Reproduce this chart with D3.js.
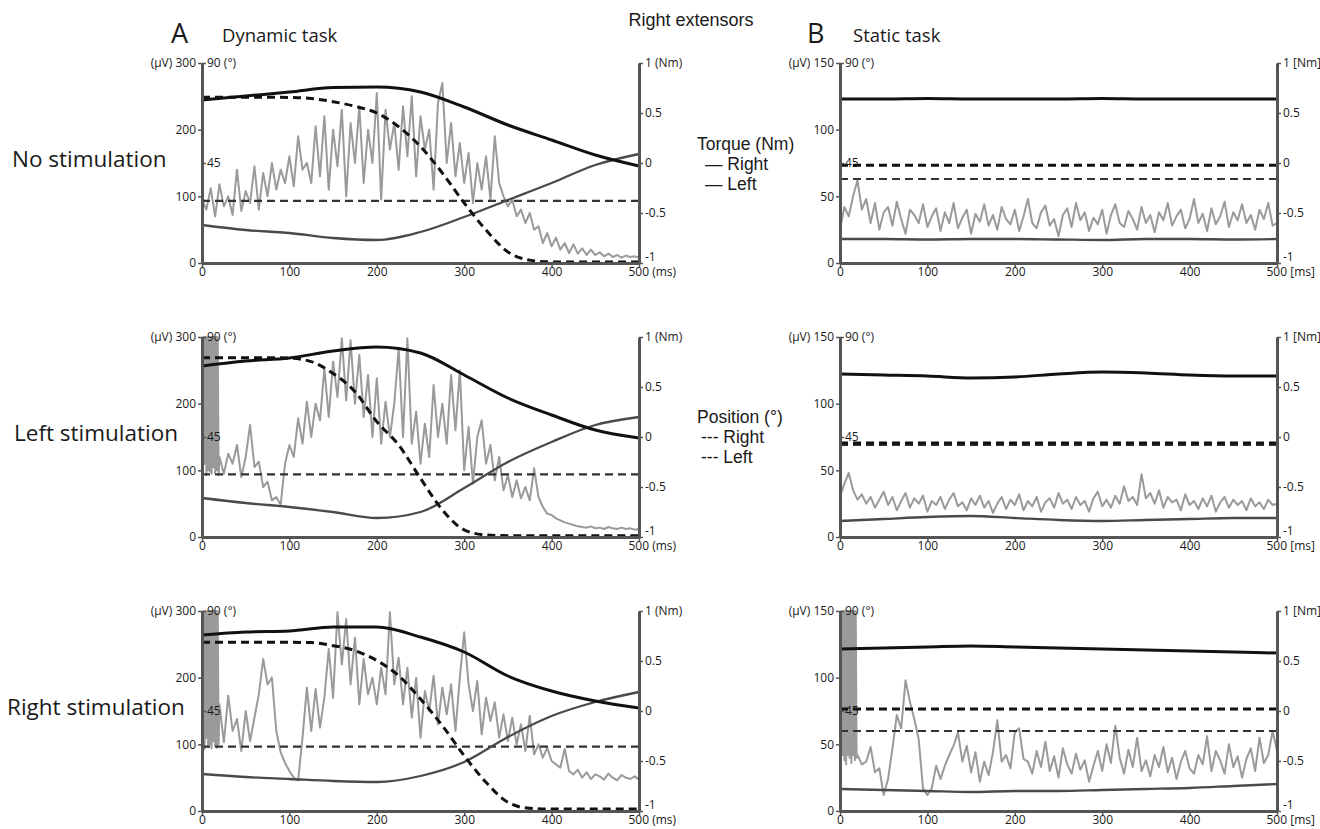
<!DOCTYPE html>
<html>
<head>
<meta charset="utf-8">
<script src="https://cdn.jsdelivr.net/npm/d3@7"></script>
<style>
  body { margin: 0; background: #fff; }
  svg text { font-family: "Open Sans", "Liberation Sans", sans-serif; fill: #1a1a1a; }
  .legend text, .title-mid { font-family: "Liberation Sans", Arial, sans-serif; }
</style>
</head>
<body>
<svg id="chart" width="1320" height="829"></svg>
<script>
// sample grids (ms)
const emgTimes = d3.range(0, 501, 5);
const torqueTimes = d3.range(0, 501, 50);
const positionTimes = d3.range(0, 501, 25);
const artifactTimes = d3.range(0, 21, 1);

const msTicks = [0, 100, 200, 300, 400, 500];
const nmTicks = [-1, -0.5, 0, 0.5, 1];
const degTicks = [45, 90];
const dynUvTicks = [0, 100, 200, 300];
const statUvTicks = [0, 50, 100, 150];
const rowLabels = ["No stimulation", "Left stimulation", "Right stimulation"];

// ---- A: dynamic task ----
const emgNoStimDyn = [95,80,112,70,118,85,100,72,140,78,108,90,145,80,135,100,150,110,140,120,160,115,190,140,150,120,205,130,220,110,200,145,230,100,210,150,235,120,200,150,255,95,230,170,210,140,235,160,250,130,220,170,200,110,240,270,150,210,130,180,120,165,90,150,110,160,95,190,120,100,85,95,70,80,60,75,50,55,30,45,25,38,20,30,15,28,14,22,12,20,12,16,10,14,9,12,8,11,9,10,8];
const emgLeftStimDyn = [300,90,300,100,120,95,125,110,138,90,120,168,105,113,75,83,55,60,48,110,138,120,178,140,203,150,200,175,253,180,263,210,298,205,295,200,273,180,243,150,238,140,203,150,200,283,150,298,140,188,110,170,120,228,150,200,140,243,160,250,100,165,80,150,175,110,138,85,120,70,93,60,85,58,75,55,103,60,45,35,33,28,25,22,20,18,16,15,14,16,13,14,12,15,13,12,14,12,13,11,12];
const emgRightStimDyn = [300,100,300,95,160,103,173,120,138,90,150,105,140,175,228,190,200,120,88,72,60,50,46,110,185,120,183,125,170,243,170,298,220,288,190,260,160,228,175,200,160,215,175,298,190,230,160,215,140,200,110,180,150,203,130,185,145,190,120,200,268,190,150,195,115,170,135,163,110,145,105,140,100,130,90,143,85,100,80,95,75,70,65,93,60,55,62,50,58,48,55,52,47,56,50,46,54,50,48,52,47];
const artifactLeftStimDyn = [300,95,300,110,300,93,300,100,300,98,300,95,300,105,300,96,300,100,300,93,120];
const artifactRightStimDyn = [300,100,300,93,300,110,300,96,300,100,300,94,300,105,300,98,300,95,300,100,160];

const torqueRightNoStimDyn = [0.63,0.67,0.71,0.755,0.76,0.71,0.56,0.38,0.23,0.08,-0.03];
const torqueLeftNoStimDyn = [-0.62,-0.67,-0.70,-0.75,-0.77,-0.69,-0.54,-0.37,-0.20,-0.02,0.09];
const torqueRightLeftStimDyn = [0.71,0.76,0.79,0.86,0.90,0.84,0.62,0.39,0.22,0.07,-0.01];
const torqueLeftLeftStimDyn = [-0.61,-0.66,-0.70,-0.75,-0.81,-0.75,-0.51,-0.25,-0.05,0.12,0.20];
const torqueRightRightStimDyn = [0.76,0.79,0.80,0.84,0.84,0.74,0.59,0.35,0.20,0.10,0.03];
const torqueLeftRightStimDyn = [-0.63,-0.66,-0.68,-0.70,-0.71,-0.65,-0.51,-0.26,-0.05,0.09,0.19];

const posRightNoStimDyn = [74.6,74.6,74.6,74.6,74.5,74.0,72.6,70.5,67.5,61.3,52.4,40.5,27.0,14.8,5.0,1.3,0.5,0.5,0.5,0.5,0.5];
const posLeftNoStimDyn = [28,28,28,28,28,28,28,28,28,28,28,28,28,28,28,28,28,28,28,28,28];
const posRightLeftStimDyn = [80.7,80.7,80.7,80.7,80.5,78.9,73.6,65.4,51.9,41.4,26.4,12.2,3.2,0.9,0.6,0.6,0.6,0.6,0.6,0.6,0.6];
const posLeftLeftStimDyn = [28.2,28.2,28.2,28.2,28.2,28.2,28.2,28.2,28.2,28.2,28.2,28.2,28.2,28.2,28.2,28.2,28.2,28.2,28.2,28.2,28.2];
const posRightRightStimDyn = [75.9,75.9,75.9,75.9,75.9,75.8,74.4,72.2,67.7,60.9,50.4,38.4,24.9,12.9,3.9,1.2,0.9,0.9,0.9,0.9,0.9];
const posLeftRightStimDyn = [29,29,29,29,29,29,29,29,29,29,29,29,29,29,29,29,29,29,29,29,29];

// ---- B: static task ----
const emgNoStimStat = [25,42,35,50,62,40,48,30,45,25,38,42,28,46,33,22,40,36,30,44,27,35,41,24,38,30,45,26,34,40,22,37,31,44,28,36,25,42,33,29,40,24,35,48,30,26,38,43,28,33,20,36,41,27,45,32,38,24,34,29,40,22,36,44,30,27,39,33,25,42,30,36,23,38,32,45,28,35,40,26,33,48,30,37,24,41,29,35,46,27,38,32,44,30,36,25,40,33,45,28,30];
const emgLeftStimStat = [30,40,48,35,28,32,25,30,22,28,34,24,30,20,27,33,22,29,25,31,19,27,24,30,21,28,33,23,26,20,29,24,31,22,27,18,25,30,21,28,24,32,20,27,23,30,19,26,29,22,33,25,28,21,30,24,27,19,29,34,23,28,22,31,25,38,27,30,24,47,29,33,25,35,22,30,26,28,20,32,24,27,21,29,23,31,19,26,30,22,28,24,27,20,29,23,26,21,28,24,25];
const emgRightStimStat = [40,35,42,32,42,35,37,48,29,32,12,24,47,72,62,98,82,69,54,17,12,17,34,24,34,42,49,59,37,49,29,44,22,37,27,44,68,37,42,32,59,62,39,37,28,45,33,52,30,41,25,47,35,28,43,31,38,22,34,45,30,50,36,64,40,28,46,33,55,30,38,26,42,33,48,29,40,24,37,45,32,28,42,35,56,30,45,38,28,50,33,41,25,39,47,30,55,36,42,60,45];
const artifactRightStimStat = [150,32,150,42,150,38,150,35,150,42,150,40,150,36,150,42,150,38,150,40,42];

const torqueRightNoStimStat = [0.64,0.64,0.645,0.64,0.64,0.64,0.645,0.64,0.64,0.64,0.64];
const torqueLeftNoStimStat = [-0.76,-0.76,-0.765,-0.76,-0.76,-0.765,-0.77,-0.76,-0.76,-0.765,-0.76];
const torqueRightLeftStimStat = [0.63,0.62,0.61,0.59,0.60,0.63,0.65,0.64,0.62,0.61,0.61];
const torqueLeftLeftStimStat = [-0.84,-0.82,-0.80,-0.79,-0.81,-0.83,-0.84,-0.83,-0.82,-0.81,-0.81];
const torqueRightRightStimStat = [0.62,0.63,0.64,0.65,0.64,0.63,0.62,0.61,0.60,0.59,0.58];
const torqueLeftRightStimStat = [-0.78,-0.79,-0.80,-0.81,-0.80,-0.80,-0.79,-0.78,-0.77,-0.75,-0.73];

const posRightNoStimStat = [44,44,44,44,44,44,44,44,44,44,44,44,44,44,44,44,44,44,44,44,44];
const posLeftNoStimStat = [37.8,37.8,37.8,37.8,37.8,37.8,37.8,37.8,37.8,37.8,37.8,37.8,37.8,37.8,37.8,37.8,37.8,37.8,37.8,37.8,37.8];
const posRightLeftStimStat = [42.3,42.3,42.3,42.3,42.3,42.3,42.3,42.3,42.3,42.3,42.3,42.3,42.3,42.3,42.3,42.3,42.3,42.3,42.3,42.3,42.3];
const posLeftLeftStimStat = [41.4,41.4,41.4,41.4,41.4,41.4,41.4,41.4,41.4,41.4,41.4,41.4,41.4,41.4,41.4,41.4,41.4,41.4,41.4,41.4,41.4];
const posRightRightStimStat = [45.9,45.9,45.9,45.9,45.9,45.9,45.9,45.9,45.9,45.9,45.9,45.9,45.9,45.9,45.9,45.9,45.9,45.9,45.9,45.9,45.9];
const posLeftRightStimStat = [36,36,36,36,36,36,36,36,36,36,36,36,36,36,36,36,36,36,36,36,36];

const W = 437, H = 200;
const colX = [202, 840];
const rowY = [63, 337, 611];

const panels = [
  { col: 0, row: 0, uvMax: 300, uvTicks: dynUvTicks, unit: "()", emg: emgNoStimDyn, tR: torqueRightNoStimDyn, tL: torqueLeftNoStimDyn, pR: posRightNoStimDyn, pL: posLeftNoStimDyn },
  { col: 0, row: 1, uvMax: 300, uvTicks: dynUvTicks, unit: "()", emg: emgLeftStimDyn, art: artifactLeftStimDyn, tR: torqueRightLeftStimDyn, tL: torqueLeftLeftStimDyn, pR: posRightLeftStimDyn, pL: posLeftLeftStimDyn },
  { col: 0, row: 2, uvMax: 300, uvTicks: dynUvTicks, unit: "()", emg: emgRightStimDyn, art: artifactRightStimDyn, tR: torqueRightRightStimDyn, tL: torqueLeftRightStimDyn, pR: posRightRightStimDyn, pL: posLeftRightStimDyn },
  { col: 1, row: 0, uvMax: 150, uvTicks: statUvTicks, unit: "[]", emg: emgNoStimStat, tR: torqueRightNoStimStat, tL: torqueLeftNoStimStat, pR: posRightNoStimStat, pL: posLeftNoStimStat },
  { col: 1, row: 1, uvMax: 150, uvTicks: statUvTicks, unit: "[]", emg: emgLeftStimStat, tR: torqueRightLeftStimStat, tL: torqueLeftLeftStimStat, pR: posRightLeftStimStat, pL: posLeftLeftStimStat },
  { col: 1, row: 2, uvMax: 150, uvTicks: statUvTicks, unit: "[]", emg: emgRightStimStat, art: artifactRightStimStat, tR: torqueRightRightStimStat, tL: torqueLeftRightStimStat, pR: posRightRightStimStat, pL: posLeftRightStimStat },
];

const svg = d3.select("#chart");
const AXIS = "#555";

function styleAxis(sel) {
  sel.select(".domain").attr("stroke", AXIS).attr("stroke-width", 3);
  sel.selectAll(".tick line").attr("stroke", AXIS).attr("stroke-width", 1.5);
  sel.selectAll(".tick text").attr("font-size", 12).attr("fill", "#1a1a1a")
    .attr("font-family", "'Open Sans', sans-serif");
}

function drawPanel(p) {
  const g = svg.append("g").attr("transform", `translate(${colX[p.col]},${rowY[p.row]})`);
  const x = d3.scaleLinear().domain([0, 500]).range([0, W]);
  const yUv = d3.scaleLinear().domain([0, p.uvMax]).range([H, 0]);
  const yDeg = d3.scaleLinear().domain([0, 90]).range([H, 0]);
  const yNm = d3.scaleLinear().domain([-1, 1]).range([H, 0]);
  const o = p.unit[0], c = p.unit[1];

  // EMG trace
  let pts = emgTimes.map((t, i) => [t, p.emg[i]]);
  if (p.art) {
    pts = artifactTimes.map((t, i) => [t, p.art[i]]).concat(pts.filter(d => d[0] > 20));
  }
  g.append("path").datum(pts)
    .attr("fill", "none").attr("stroke", "#9a9a9a").attr("stroke-width", 2)
    .attr("stroke-linejoin", "round")
    .attr("d", d3.line().x(d => x(d[0])).y(d => yUv(d[1])));

  const posLine = d3.line().curve(d3.curveMonotoneX).x((d, i) => x(positionTimes[i])).y(d => yDeg(d));
  const nmLine = d3.line().curve(d3.curveMonotoneX).x((d, i) => x(torqueTimes[i])).y(d => yNm(d));

  g.append("path").datum(p.pL).attr("fill", "none").attr("stroke", "#333")
    .attr("stroke-width", 2.2).attr("stroke-dasharray", "8,5").attr("d", posLine);
  g.append("path").datum(p.tL).attr("fill", "none").attr("stroke", "#4a4a4a")
    .attr("stroke-width", 2.3).attr("d", nmLine);
  g.append("path").datum(p.pR).attr("fill", "none").attr("stroke", "#111")
    .attr("stroke-width", 3).attr("stroke-dasharray", "8,5").attr("d", posLine);
  g.append("path").datum(p.tR).attr("fill", "none").attr("stroke", "#111")
    .attr("stroke-width", 3).attr("d", nmLine);

  // axes
  const ax = g.append("g").attr("transform", `translate(0,${H})`)
    .call(d3.axisBottom(x).tickValues(msTicks).tickSize(4).tickSizeOuter(0).tickPadding(0)
      .tickFormat(d => d === 500 ? `500 ${o}ms${c}` : d));
  styleAxis(ax);
  ax.selectAll(".tick text").filter(d => d === 500).attr("text-anchor", "start").attr("x", -11);

  const ay = g.append("g")
    .call(d3.axisLeft(yUv).tickValues(p.uvTicks).tickSize(4).tickSizeOuter(0).tickPadding(2)
      .tickFormat(d => d === p.uvMax ? `(μV) ${d}` : d));
  styleAxis(ay);

  const ad = g.append("g")
    .call(d3.axisRight(yDeg).tickValues(degTicks).tickSize(4).tickPadding(1)
      .tickFormat(d => d === 90 ? "90 (°)" : d));
  styleAxis(ad);
  ad.select(".domain").remove();

  const ar = g.append("g").attr("transform", `translate(${W},0)`)
    .call(d3.axisRight(yNm).tickValues(nmTicks).tickSize(4).tickSizeOuter(0).tickPadding(2)
      .tickFormat(d => d === 1 ? `1 ${o}Nm${c}` : String(d)));
  styleAxis(ar);
  ar.selectAll(".tick text").filter(d => d === -1).attr("dy", "-0.2em");
}

panels.forEach(drawPanel);

// titles
svg.append("text").attr("class", "title-mid").attr("x", 691).attr("y", 26)
  .attr("text-anchor", "middle").attr("font-size", 18).text("Right extensors");
svg.append("text").attr("x", 171).attr("y", 43).attr("font-size", 27).text("A");
svg.append("text").attr("x", 222).attr("y", 42).attr("font-size", 18.5).text("Dynamic task");
svg.append("text").attr("x", 807).attr("y", 43).attr("font-size", 27).text("B");
svg.append("text").attr("x", 853).attr("y", 42).attr("font-size", 18.5).text("Static task");

svg.selectAll(".rowlabel").data(rowLabels).enter().append("text")
  .attr("class", "rowlabel")
  .attr("x", (d, i) => [12, 14, 7][i])
  .attr("y", (d, i) => rowY[i] + 104)
  .attr("font-size", 22.5).text(d => d);

// legends
const leg = svg.append("g").attr("class", "legend");
const legendRows = [
  { y: 150, text: "Torque (Nm)" }, { y: 170, text: "— Right", x: 705 }, { y: 190, text: "— Left", x: 705 },
  { y: 423, text: "Position (°)" }, { y: 443, text: "--- Right", x: 701 }, { y: 463, text: "--- Left", x: 701 },
];
leg.selectAll("text").data(legendRows).enter().append("text")
  .attr("x", d => d.x || 697).attr("y", d => d.y).attr("font-size", 17.5).text(d => d.text);
</script>
</body>
</html>
